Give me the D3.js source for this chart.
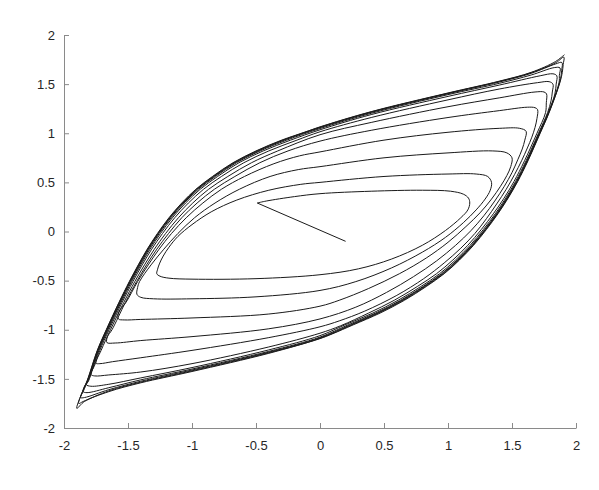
<!DOCTYPE html>
<html><head><meta charset="utf-8">
<script src="https://cdn.jsdelivr.net/npm/d3@7"></script>
<style>body{margin:0;background:#fff}svg{display:block}</style>
</head><body>
<script>
const xTicks = [-2,-1.5,-1,-0.5,0,0.5,1,1.5,2];
const yTicks = [-2,-1.5,-1,-0.5,0,0.5,1,1.5,2];
const startSegment = [[0.20,-0.10],[-0.49,0.29]];
const up1 = [[-0.49,0.29],[-0.42,0.31],[-0.20,0.355],[0,0.385],[0.40,0.41],[0.80,0.42],[1.02,0.41],[1.12,0.38],[1.16,0.34],[1.17,0.29]];
const down1 = [[1.17,0.29],[1.155,0.22],[1.10,0.14],[0.98,0.01],[0.80,-0.14],[0.56,-0.28],[0.30,-0.38],[0,-0.44],[-0.50,-0.48],[-1.00,-0.485],[-1.18,-0.475],[-1.25,-0.455],[-1.275,-0.43]];
const up2 = [[-1.275,-0.43],[-1.27,-0.39],[-1.255,-0.33],[-1.225,-0.25],[-1.18,-0.16],[-1.11,-0.05],[-1.00,0.07],[-0.85,0.20],[-0.65,0.32],[-0.40,0.42],[-0.15,0.48],[0,0.50],[0.50,0.56],[1.00,0.585],[1.22,0.585],[1.31,0.56],[1.34,0.50]];
const down2 = [[1.34,0.50],[1.33,0.42],[1.29,0.33],[1.22,0.22],[1.12,0.09],[0.98,-0.06],[0.80,-0.21],[0.56,-0.37],[0.28,-0.51],[0,-0.60],[-0.50,-0.665],[-1.00,-0.685],[-1.30,-0.685],[-1.40,-0.67],[-1.43,-0.64]];
const up3 = [[-1.43,-0.64],[-1.425,-0.57],[-1.41,-0.51],[-1.32,-0.34],[-1.22,-0.18],[-1.11,-0.02],[-0.98,0.14],[-0.82,0.29],[-0.63,0.43],[-0.39,0.56],[-0.17,0.63],[0,0.66],[0.50,0.75],[1.00,0.80],[1.35,0.82],[1.46,0.80],[1.50,0.75]];
const down3 = [[1.50,0.75],[1.49,0.66],[1.46,0.57],[1.41,0.46],[1.34,0.33],[1.25,0.19],[1.14,0.05],[1.00,-0.11],[0.83,-0.27],[0.62,-0.43],[0.38,-0.58],[0.15,-0.70],[0,-0.76],[-0.40,-0.84],[-1.00,-0.88],[-1.40,-0.895],[-1.53,-0.90],[-1.575,-0.89]];
const up4 = [[-1.575,-0.89],[-1.572,-0.82],[-1.515,-0.72],[-1.425,-0.51],[-1.342,-0.34],[-1.257,-0.18],[-1.16,-0.02],[-1.045,0.14],[-0.915,0.29],[-0.77,0.43],[-0.59,0.56],[-0.36,0.69],[-0.16,0.77],[0,0.81],[0.50,0.93],[1.00,1.01],[1.40,1.05],[1.56,1.05],[1.61,1.02]];
const down4 = [[1.61,1.02],[1.60,0.93],[1.58,0.84],[1.545,0.73],[1.50,0.60],[1.44,0.46],[1.365,0.31],[1.28,0.16],[1.18,0.01],[1.06,-0.14],[0.91,-0.30],[0.73,-0.46],[0.52,-0.62],[0.28,-0.77],[0,-0.89],[-0.40,-0.99],[-1.00,-1.07],[-1.40,-1.11],[-1.60,-1.135],[-1.665,-1.13]];
const up5 = [[-1.665,-1.13],[-1.66,-1.07],[-1.625,-1.00],[-1.52,-0.72],[-1.433,-0.51],[-1.355,-0.34],[-1.275,-0.18],[-1.183,-0.02],[-1.08,0.14],[-0.96,0.29],[-0.825,0.43],[-0.665,0.56],[-0.47,0.70],[-0.25,0.82],[0,0.92],[0.40,1.03],[1.00,1.16],[1.40,1.23],[1.62,1.265],[1.68,1.26],[1.70,1.24]];
const down5 = [[1.70,1.24],[1.695,1.15],[1.68,1.06],[1.655,0.96],[1.62,0.85],[1.575,0.72],[1.52,0.58],[1.455,0.43],[1.38,0.28],[1.30,0.13],[1.21,-0.02],[1.10,-0.17],[0.97,-0.32],[0.81,-0.48],[0.60,-0.65],[0.35,-0.81],[0.15,-0.91],[0,-0.97],[-0.40,-1.08],[-1.00,-1.21],[-1.40,-1.285],[-1.62,-1.325],[-1.72,-1.345],[-1.75,-1.34]];
const up6 = [[-1.75,-1.34],[-1.71,-1.21],[-1.637,-1.00],[-1.532,-0.72],[-1.447,-0.51],[-1.371,-0.34],[-1.294,-0.18],[-1.206,-0.02],[-1.106,0.14],[-0.994,0.29],[-0.87,0.43],[-0.72,0.56],[-0.535,0.70],[-0.33,0.82],[0,0.985],[0.40,1.11],[1.00,1.27],[1.40,1.36],[1.68,1.42],[1.75,1.42],[1.77,1.40]];
const down6 = [[1.77,1.40],[1.768,1.31],[1.762,1.21],[1.695,1.00],[1.598,0.72],[1.516,0.51],[1.438,0.34],[1.354,0.18],[1.26,0.02],[1.155,-0.14],[1.038,-0.29],[0.91,-0.43],[0.76,-0.56],[0.58,-0.70],[0.38,-0.83],[0.16,-0.96],[0,-1.035],[-0.40,-1.175],[-1.00,-1.345],[-1.40,-1.43],[-1.65,-1.46],[-1.76,-1.47],[-1.79,-1.455]];
const up7 = [[-1.79,-1.455],[-1.76,-1.36],[-1.72,-1.21],[-1.648,-1.00],[-1.545,-0.72],[-1.462,-0.51],[-1.389,-0.34],[-1.315,-0.18],[-1.23,-0.02],[-1.135,0.14],[-1.028,0.29],[-0.91,0.43],[-0.77,0.56],[-0.595,0.70],[-0.40,0.82],[-0.18,0.93],[0,1.015],[0.40,1.16],[1.00,1.34],[1.40,1.45],[1.70,1.515],[1.79,1.525],[1.82,1.50]];
const down7 = [[1.82,1.50],[1.815,1.42],[1.805,1.33],[1.778,1.21],[1.707,1.00],[1.61,0.72],[1.528,0.51],[1.451,0.34],[1.369,0.18],[1.276,0.02],[1.173,-0.14],[1.059,-0.29],[0.934,-0.43],[0.788,-0.56],[0.61,-0.70],[0.413,-0.83],[0.195,-0.95],[0,-1.06],[-0.40,-1.205],[-1.00,-1.385],[-1.40,-1.49],[-1.65,-1.555],[-1.79,-1.575],[-1.825,-1.56]];
const up8 = [[-1.825,-1.56],[-1.808,-1.52],[-1.727,-1.21],[-1.656,-1.00],[-1.554,-0.72],[-1.472,-0.51],[-1.40,-0.34],[-1.328,-0.18],[-1.246,-0.02],[-1.153,0.14],[-1.05,0.29],[-0.936,0.43],[-0.80,0.56],[-0.633,0.70],[-0.444,0.82],[-0.23,0.93],[0,1.035],[0.40,1.19],[1.00,1.375],[1.40,1.49],[1.72,1.585],[1.82,1.605],[1.85,1.585]];
const down8 = [[1.85,1.585],[1.845,1.50],[1.835,1.40],[1.783,1.21],[1.712,1.00],[1.616,0.72],[1.535,0.51],[1.459,0.34],[1.378,0.18],[1.286,0.02],[1.184,-0.14],[1.072,-0.29],[0.949,-0.43],[0.805,-0.56],[0.63,-0.70],[0.435,-0.83],[0.22,-0.95],[0,-1.075],[-0.40,-1.22],[-1.00,-1.40],[-1.40,-1.51],[-1.65,-1.59],[-1.82,-1.64],[-1.85,-1.63]];
const up9 = [[-1.85,-1.63],[-1.838,-1.57],[-1.812,-1.52],[-1.732,-1.21],[-1.661,-1.00],[-1.56,-0.72],[-1.479,-0.51],[-1.408,-0.34],[-1.337,-0.18],[-1.256,-0.02],[-1.164,0.14],[-1.062,0.29],[-0.95,0.43],[-0.817,0.56],[-0.653,0.70],[-0.468,0.82],[-0.26,0.93],[0,1.048],[0.40,1.203],[1.00,1.393],[1.40,1.508],[1.65,1.593],[1.83,1.668],[1.875,1.665]];
const down9 = [[1.875,1.665],[1.87,1.59],[1.868,1.52],[1.786,1.21],[1.715,1.00],[1.62,0.72],[1.539,0.51],[1.463,0.34],[1.382,0.18],[1.291,0.02],[1.19,-0.14],[1.078,-0.29],[0.956,-0.43],[0.813,-0.56],[0.64,-0.70],[0.447,-0.83],[0.237,-0.95],[0,-1.082],[-0.40,-1.228],[-1.00,-1.41],[-1.40,-1.524],[-1.65,-1.61],[-1.84,-1.69],[-1.87,-1.69]];
const up10 = [[-1.87,-1.69],[-1.847,-1.62],[-1.815,-1.52],[-1.735,-1.21],[-1.665,-1.00],[-1.564,-0.72],[-1.484,-0.51],[-1.413,-0.34],[-1.343,-0.18],[-1.262,-0.02],[-1.171,0.14],[-1.07,0.29],[-0.959,0.43],[-0.827,0.56],[-0.665,0.70],[-0.482,0.82],[-0.28,0.93],[0,1.057],[0.40,1.212],[1.00,1.402],[1.40,1.521],[1.65,1.61],[1.84,1.705],[1.89,1.72]];
const down10 = [[1.89,1.72],[1.888,1.64],[1.873,1.52],[1.788,1.21],[1.718,1.00],[1.622,0.72],[1.542,0.51],[1.466,0.34],[1.386,0.18],[1.295,0.02],[1.195,-0.14],[1.085,-0.29],[0.964,-0.43],[0.822,-0.56],[0.65,-0.70],[0.458,-0.83],[0.248,-0.95],[0,-1.088],[-0.40,-1.234],[-1.00,-1.418],[-1.40,-1.533],[-1.65,-1.622],[-1.85,-1.73],[-1.885,-1.75]];
const up11 = [[-1.885,-1.75],[-1.865,-1.66],[-1.818,-1.52],[-1.738,-1.21],[-1.668,-1.00],[-1.568,-0.72],[-1.487,-0.51],[-1.417,-0.34],[-1.347,-0.18],[-1.266,-0.02],[-1.176,0.14],[-1.075,0.29],[-0.965,0.43],[-0.834,0.56],[-0.673,0.70],[-0.492,0.82],[-0.29,0.93],[0,1.062],[0.40,1.217],[1.00,1.407],[1.40,1.527],[1.65,1.616],[1.845,1.72],[1.905,1.775]];
const down11 = [[1.905,1.775],[1.90,1.70],[1.893,1.62],[1.875,1.52],[1.79,1.21],[1.72,1.00],[1.625,0.72],[1.545,0.51],[1.47,0.34],[1.39,0.18],[1.30,0.02],[1.20,-0.14],[1.09,-0.29],[0.97,-0.43],[0.83,-0.56],[0.66,-0.70],[0.47,-0.83],[0.26,-0.95],[0.10,-1.04],[0,-1.09],[-0.40,-1.24],[-1.00,-1.425],[-1.40,-1.54],[-1.65,-1.63],[-1.84,-1.73],[-1.90,-1.80]];
const up12 = [[-1.90,-1.80],[-1.865,-1.66],[-1.82,-1.52],[-1.74,-1.21],[-1.67,-1.00],[-1.57,-0.72],[-1.49,-0.51],[-1.42,-0.34],[-1.35,-0.18],[-1.27,-0.02],[-1.18,0.14],[-1.08,0.29],[-0.97,0.43],[-0.84,0.56],[-0.68,0.70],[-0.50,0.82],[-0.30,0.93],[-0.12,1.01],[0,1.065],[0.40,1.22],[1.00,1.41],[1.40,1.53],[1.65,1.62],[1.84,1.73],[1.91,1.80]];

const halves = [up1,down1,up2,down2,up3,down3,up4,down4,up5,down5,up6,down6,up7,down7,up8,down8,up9,down9,up10,down10,up11,down11,up12];

const W = 599, H = 490;
const svg = d3.select("body").append("svg").attr("width", W).attr("height", H);
const x = d3.scaleLinear().domain([-2,2]).range([64,576]);
const y = d3.scaleLinear().domain([-2,2]).range([428,35]);
const fmt = d => d3.format("~g")(d).replace("\u2212","-");

const xAxis = d3.axisBottom(x).tickValues(xTicks).tickSizeInner(-5).tickSizeOuter(0).tickPadding(13).tickFormat(fmt);
const yAxis = d3.axisLeft(y).tickValues(yTicks).tickSizeInner(-5).tickSizeOuter(0).tickPadding(9).tickFormat(fmt);
const gx = svg.append("g").attr("transform","translate(0,428)").call(xAxis);
const gy = svg.append("g").attr("transform","translate(64,0)").call(yAxis);
[gx,gy].forEach(g=>{
  g.select(".domain").attr("stroke","#8a8a8a").attr("stroke-width",1);
  g.selectAll(".tick line").attr("stroke","#8a8a8a");
  g.selectAll(".tick text").attr("fill","#262626").style("font-family","'Liberation Sans', Arial, sans-serif").style("font-size","13px");
});

const pts = [];
halves.forEach((h,i)=>{ (i===0? h : h.slice(1)).forEach(p=>pts.push(p)); });
const line = d3.line().x(d=>x(d[0])).y(d=>y(d[1])).curve(d3.curveCatmullRom.alpha(0.5));
const lin = d3.line().x(d=>x(d[0])).y(d=>y(d[1]));
svg.append("path").attr("d", lin(startSegment)).attr("fill","none").attr("stroke","#1a1a1a").attr("stroke-width",1);
svg.append("path").attr("d", line(pts)).attr("fill","none").attr("stroke","#1a1a1a").attr("stroke-width",1).attr("stroke-linejoin","round");
</script>
</body></html>
